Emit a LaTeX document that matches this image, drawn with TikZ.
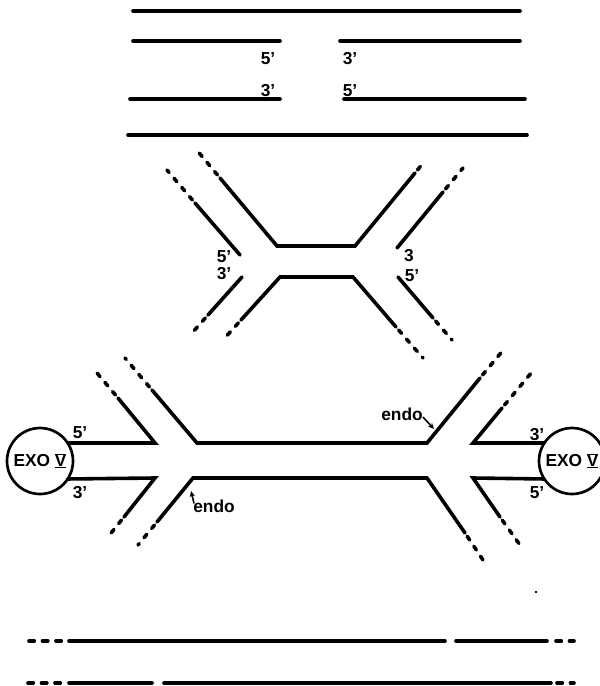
\documentclass[tikz,border=0pt]{standalone}
\usepackage{fontspec}
\setmainfont{Liberation Sans}
\usetikzlibrary{arrows.meta}

% roman five with a bar above and below
\newcommand{\barV}{{\setbox0\hbox{V}%
  \rlap{\rule[-0.7pt]{\wd0}{1pt}}\rlap{\rule[\dimexpr\ht0-0.3pt\relax]{\wd0}{1pt}}V}}

\begin{document}
\begin{tikzpicture}[
        x=0.75pt, y=-0.75pt,
        font=\bfseries\fontsize{13}{15}\selectfont,
        strand/.style={line width=2.7pt, line cap=round},
        faint/.style={strand, dash pattern=on 3.3pt off 5.7pt, dash phase=6pt},
        tail/.style={strand, dash pattern=on 4pt off 6.1pt},
        lbl/.style={inner sep=0pt},
        exo/.style={draw, circle, line width=2pt, minimum size=49.5pt, inner sep=0pt, outer sep=0pt},
        ptr/.style={-{Stealth[length=4.5pt, width=4pt]}, line width=1.2pt},
    ]
        \clip (0,0) rectangle (600,686);

        % Top: duplex, one nick in each strand
        \draw[strand] (133,11) -- (520,11);
        \draw[strand] (133,41) -- (280,41);
        \draw[strand] (340,41) -- (520,41);
        \draw[strand] (130,99) -- (280,99);
        \draw[strand] (344,99) -- (525,99);
        \draw[strand] (128,135) -- (527,135);
        \node[lbl] (t5a) at (268,59) {5'};
        \node[lbl] (t3a) at (350,59) {3'};
        \node[lbl] (t3b) at (268,91) {3'};
        \node[lbl] (t5b) at (350,91) {5'};

        % Middle: the nicks opened into a bubble
        \draw[faint] (220,178) -- (195,148);
        \draw[strand] (220,178) -- (277,246) -- (355,246) -- (415,173);
        \draw[faint] (415,173) -- (424,162);
        \draw[faint] (195,203) -- (167,170);
        \draw[strand] (195,203) -- (240,255);
        \draw[strand] (397,248) -- (443,192);
        \draw[faint] (443,192) -- (463,168);
        \draw[strand] (242,277) -- (208,315);
        \draw[faint] (208,315) -- (192,333);
        \draw[faint] (241,320) -- (223,340);
        \draw[strand] (241,320) -- (280,277) -- (353,277) -- (396,327);
        \draw[faint] (396,327) -- (423,358);
        \draw[strand] (398,277) -- (433,318);
        \draw[faint] (433,318) -- (452,340);
        \node[lbl] (m5a) at (224,257) {5'};
        \node[lbl] (m3a) at (224,274) {3'};
        \node[lbl] (m3b) at (409,256) {3};
        \node[lbl] (m5b) at (412,276) {5'};

        % Bottom: exonuclease at both ends
        \node[exo] (exoL) at (40,461) {EXO \barV};
        \node[exo] (exoR) at (572,461) {EXO \barV};

        \draw[strand] (exoL.33) -- (155,443) -- (118,398);
        \draw[faint] (118,398) -- (97,373);
        \draw[faint] (152,390) -- (125,358);
        \draw[strand] (152,390) -- (197,443) -- (427,443) -- (480,378);
        \draw[faint] (480,378) -- (505,348);
        \draw[strand] (exoR.147) -- (473,443) -- (502,408);
        \draw[faint] (502,408) -- (532,372);
        \draw[strand] (exoL.-33) -- (155,478) -- (124,517);
        \draw[faint] (124,517) -- (107,538);
        \draw[faint] (157,522) -- (138,545);
        \draw[strand] (157,522) -- (193,478) -- (427,478) -- (465,533);
        \draw[faint] (465,533) -- (485,563);
        \draw[strand] (exoR.-147) -- (473,478) -- (500,517);
        \draw[faint] (500,517) -- (520,545);

        \node[lbl] (b5a) at (80,433) {5'};
        \node[lbl] (b3a) at (80,493) {3'};
        \node[lbl] (b3b) at (537,435) {3'};
        \node[lbl] (b5b) at (537,493) {5'};

        \node[lbl] (endoA) at (402,414) {endo};
        \node[lbl] (endoB) at (214,506) {endo};
        \coordinate (hitA) at (434,429);
        \coordinate (hitB) at (191,491);
        \draw[ptr] (endoA.east) ++(0,3) -- (hitA);
        \draw[ptr] (endoB.north west) ++(1,4) -- (hitB);

        \fill (536,592) circle (1pt);

        % Bottom lines
        \draw[tail] (29,641) -- (63,641);
        \draw[strand] (69,641) -- (445,641);
        \draw[strand] (456,641) -- (547,641);
        \draw[tail] (556,641) -- (574,641);
        \draw[tail] (28,683) -- (63,683);
        \draw[strand] (69,683) -- (152,683);
        \draw[strand] (164,683) -- (551,683);
        \draw[tail] (557,683) -- (574,683);
    \end{tikzpicture}
\end{document}
